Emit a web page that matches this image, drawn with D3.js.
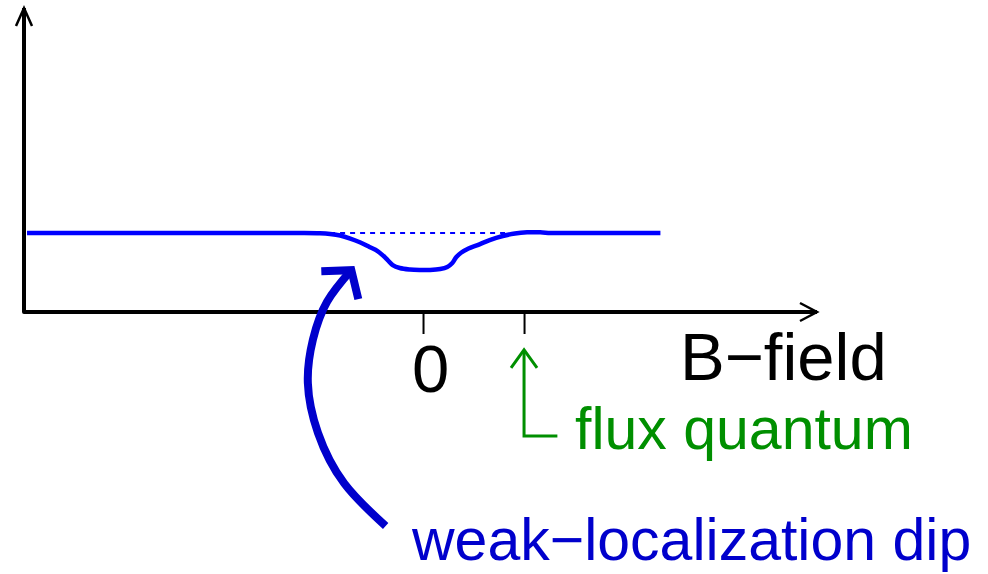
<!DOCTYPE html>
<html>
<head>
<meta charset="utf-8">
<script src="https://cdn.jsdelivr.net/npm/d3@7"></script>
<style>
  html, body { margin: 0; padding: 0; background: #fff; }
  svg { display: block; }
  text { font-family: "Liberation Sans", Arial, Helvetica, sans-serif; }
</style>
</head>
<body>
<svg id="chart" width="988" height="574"></svg>
<script>
// Magnetoresistance sketch: resistance vs B-field (B in units of the flux quantum)
const fieldB = [-3.92, -1.22, -1.02, -0.92, -0.82, -0.72, -0.62, -0.53, -0.45, -0.39, -0.35,
                -0.30, -0.23, -0.13, -0.03, 0.07, 0.17, 0.24, 0.29, 0.33, 0.38, 0.45,
                0.54, 0.66, 0.79, 0.91, 1.03, 1.16, 1.26, 1.36, 2.35];
const resistance = [1.000, 1.000, 0.996, 0.987, 0.968, 0.930, 0.880, 0.823, 0.772, 0.709, 0.658,
                    0.595, 0.557, 0.538, 0.532, 0.532, 0.544, 0.570, 0.620, 0.696, 0.753, 0.804,
                    0.848, 0.911, 0.962, 0.994, 1.009, 1.009, 1.000, 1.000, 1.000];
// classical background level drawn as a dashed reference
const backgroundB = [-0.92, 0.85];
const backgroundR = [1.00, 1.00];
// tick marks on the field axis
const tickValues = [0, 1];
const tickLabels = ["0", ""];
// curved pointer to the dip (B, R pairs)
const pointerB = [-0.37, -0.78, -1.04, -1.14, -1.09, -0.95, -0.71];
const pointerR = [-2.71, -2.17, -1.53, -0.90, -0.35, 0.13, 0.53];
// flux quantum marker path (B, R pairs)
const markerB = [1.0, 1.0, 1.33];
const markerR = [-0.48, -1.57, -1.57];

const svg = d3.select("#chart");
const x = d3.scaleLinear().domain([-3.95, 3.90]).range([24, 817]);
const y = d3.scaleLinear().domain([0, 3.85]).range([312, 8]);

const blue = "#0000ff", darkBlue = "#0000cc", green = "#008f00";

// axes with open arrowheads
const axes = svg.append("g").attr("fill", "none").attr("stroke", "#000");
axes.append("path")
  .attr("d", `M${x(-3.95)},${y(3.85)} L${x(-3.95)},${y(0)} L${x(3.90)},${y(0)}`)
  .attr("stroke-width", 4).attr("stroke-linejoin", "round");
axes.append("path")
  .attr("d", `M${x(-3.95) - 8},${y(3.85) + 18} L${x(-3.95)},${y(3.85)} L${x(-3.95) + 8},${y(3.85) + 18}`)
  .attr("stroke-width", 2.5);
axes.append("path")
  .attr("d", `M${x(3.90) - 17},${y(0) - 9} L${x(3.90)},${y(0)} L${x(3.90) - 17},${y(0) + 9}`)
  .attr("stroke-width", 2.5);

// field-axis ticks
const axis = d3.axisBottom(x).tickValues(tickValues).tickSize(22)
  .tickFormat((d, i) => tickLabels[i]);
const gAxis = svg.append("g").attr("transform", `translate(0,${y(0)})`).call(axis);
gAxis.select(".domain").remove();
gAxis.selectAll(".tick line").attr("stroke", "#000").attr("stroke-width", 2);
gAxis.selectAll(".tick text")
  .attr("y", 80).attr("dy", 0).attr("dx", 7)
  .attr("fill", "#000").attr("font-size", 67)
  .attr("font-family", "'Liberation Sans', Arial, Helvetica, sans-serif");

// axis title
svg.append("text").attr("x", 680).attr("y", 380)
  .attr("font-size", 67).attr("fill", "#000").text("B\u2212field");

// dashed background level
svg.append("line")
  .attr("x1", x(backgroundB[0])).attr("x2", x(backgroundB[1]))
  .attr("y1", y(backgroundR[0])).attr("y2", y(backgroundR[1]))
  .attr("stroke", blue).attr("stroke-width", 2).attr("stroke-dasharray", "5,5");

// resistance curve
const curve = d3.line().x(d => x(d[0])).y(d => y(d[1])).curve(d3.curveCatmullRom.alpha(0.5));
svg.append("path")
  .datum(fieldB.map((b, i) => [b, resistance[i]]))
  .attr("d", curve).attr("fill", "none")
  .attr("stroke", blue).attr("stroke-width", 4.5).attr("stroke-linejoin", "round");

// curved pointer to the dip
const pts = pointerB.map((b, i) => [b, pointerR[i]]);
const arc = d3.line().x(d => x(d[0])).y(d => y(d[1])).curve(d3.curveNatural);
svg.append("path").datum(pts).attr("d", arc).attr("fill", "none")
  .attr("stroke", darkBlue).attr("stroke-width", 8);
const tip = pts[pts.length - 1];
const tx = x(tip[0]), ty = y(tip[1]);
svg.append("path")
  .attr("d", `M${tx - 30},${ty + 1} L${tx},${ty} L${tx + 7},${ty + 29}`)
  .attr("fill", "none").attr("stroke", darkBlue).attr("stroke-width", 8)
  .attr("stroke-linejoin", "miter");
svg.append("text").attr("x", 412).attr("y", 560)
  .attr("font-size", 59).attr("fill", darkBlue).text("weak\u2212localization dip");

// flux quantum marker
const mpts = markerB.map((b, i) => [x(b), y(markerR[i])]);
svg.append("path")
  .attr("d", d3.line()(mpts))
  .attr("fill", "none").attr("stroke", green).attr("stroke-width", 3);
svg.append("path")
  .attr("d", `M${mpts[0][0] - 13},${mpts[0][1] + 18} L${mpts[0][0]},${mpts[0][1]} L${mpts[0][0] + 13},${mpts[0][1] + 18}`)
  .attr("fill", "none").attr("stroke", green).attr("stroke-width", 3);
svg.append("text").attr("x", 575).attr("y", 449)
  .attr("font-size", 59).attr("fill", green).text("flux quantum");
</script>
</body>
</html>
